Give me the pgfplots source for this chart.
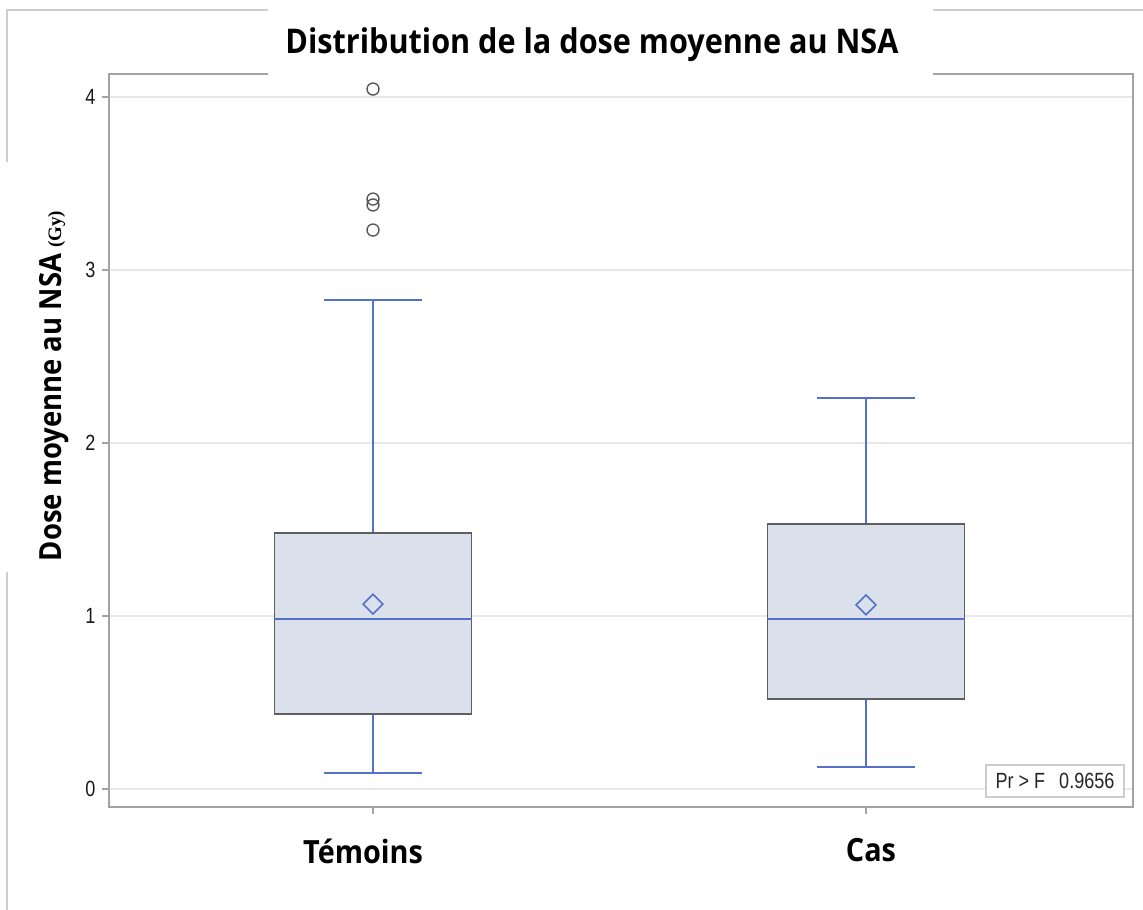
\documentclass[border=0pt]{standalone}
\usepackage{fontspec}
\setmainfont{Open Sans}[FakeStretch=0.9]
\newfontfamily\tickfont{Liberation Sans}[FakeStretch=0.82]
\newfontfamily\gyfont{Liberation Serif}
\usepackage{pgfplots}
\pgfplotsset{compat=1.18}
\usepgfplotslibrary{statistics}
\definecolor{sasblue}{RGB}{84,112,200}
\definecolor{boxfill}{RGB}{218,225,236}
\definecolor{boxedge}{RGB}{95,95,95}
\definecolor{axgray}{RGB}{160,164,168}
\definecolor{gridgray}{RGB}{232,232,232}
\definecolor{framegray}{RGB}{205,205,205}
\begin{document}
\begin{tikzpicture}
\useasboundingbox (0pt,0pt) rectangle (1143pt,910pt);
\begin{axis}[
  at={(109pt,103pt)}, anchor=south west,
  width=1024pt, height=733pt, scale only axis,
  xmin=0.4645, xmax=2.5416,
  ymin=-0.104, ymax=4.133,
  xtick={1,2}, xticklabels={Témoins\hspace*{20pt},\hspace*{10pt}Cas},
  ytick={0,1,2,3,4},
  tick pos=left, tick align=outside,
  major tick length=7pt,
  every tick/.style={axgray, line width=1.3pt},
  axis line style={axgray, line width=1.5pt},
  ymajorgrids, major grid style={gridgray, line width=1.3pt},
  /pgf/number format/assume math mode=true,
  yticklabel style={font=\tickfont\fontsize{22}{24}\selectfont, text=black!90, xshift=-3pt},
  xticklabel style={font=\fontsize{32}{36}\selectfont\bfseries, yshift=-21pt},
  boxplot/draw direction=y,
  boxplot/every box/.style={draw=boxedge, fill=boxfill, line width=1.7pt},
  boxplot/every whisker/.style={draw=sasblue, line width=1.4pt},
  boxplot/every median/.style={draw=sasblue, line width=1.7pt},
  clip=false,
]
\addplot[boxplot prepared={draw position=1, median=0.983, upper quartile=1.480, lower quartile=0.434, upper whisker=2.827, lower whisker=0.092, box extend=0.4, whisker extend=0.2}] coordinates {};
\addplot[boxplot prepared={draw position=2, median=0.983, upper quartile=1.532, lower quartile=0.520, upper whisker=2.260, lower whisker=0.127, box extend=0.4, whisker extend=0.2}] coordinates {};
\addplot[only marks, mark=o, mark size=6pt, mark options={draw=black!65, line width=1.4pt}] coordinates {(1,4.046) (1,3.410) (1,3.376) (1,3.231)};
\addplot[only marks, mark=square, mark size=7pt, mark options={rotate=45, draw=sasblue, fill=none, line width=1.6pt}] coordinates {(1,1.069) (2,1.064)};
\end{axis}
% outer frame with gaps
\draw[framegray, line width=1.5pt] (7pt,0pt) -- (7pt,338pt);
\draw[framegray, line width=1.5pt] (7pt,748pt) -- (7pt,900pt) -- (268pt,900pt);
\draw[framegray, line width=1.5pt] (933pt,900pt) -- (1143pt,900pt);
\fill[white] (268pt,830pt) rectangle (933pt,846pt);
% title
\node[font=\fontsize{34}{38}\selectfont\bfseries] at (592pt,865pt) {Distribution de la dose moyenne au NSA};
% y label
\node[rotate=90, anchor=base] at (61pt,524pt) {\fontsize{30.5}{34}\selectfont\bfseries Dose moyenne au NSA\hspace{6pt}{\gyfont\fontsize{19}{21}\selectfont\bfseries (Gy)}};
% Pr > F box
\node[draw=framegray, fill=white, line width=1.2pt, minimum width=138pt, minimum height=32pt, font=\tickfont\fontsize{22}{24}\selectfont, text=black!85] at (1055pt,129pt) {Pr > F\hspace{14pt}0.9656};
\end{tikzpicture}
\end{document}
